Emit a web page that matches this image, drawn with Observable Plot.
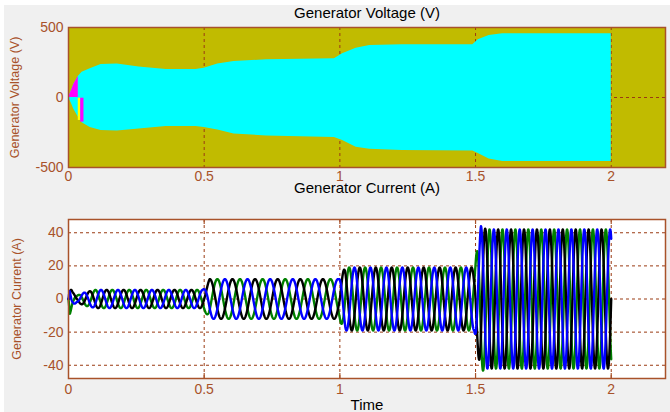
<!DOCTYPE html>
<html>
<head>
<meta charset="utf-8">
<script src="https://cdn.jsdelivr.net/npm/d3@7"></script>
<script src="https://cdn.jsdelivr.net/npm/@observablehq/plot@0.6"></script>
<style>
  html, body { margin: 0; padding: 0; background: #ffffff; }
  #bg { position: absolute; left: 4px; top: 5px; width: 666px; height: 407px; background: #f0f0f0; }
  #charts { position: absolute; left: 0; top: 0; width: 670px; }
  #charts svg { display: block; }
</style>
</head>
<body>
<div id="bg"></div>
<div id="charts"></div>
<script>
// ---------- data ----------
// Generator voltage envelope (V)
const vTime  = [0, 0.01, 0.02, 0.036, 0.05, 0.08, 0.12, 0.18, 0.26, 0.36, 0.47, 0.5, 0.55, 0.61, 0.73, 0.98, 1.01, 1.06, 1.11, 1.23, 1.49, 1.51, 1.55, 1.6, 2.0];
const vUpper = [0, 45, 95, 150, 180, 205, 236, 240, 217, 200, 200, 209, 240, 257, 269, 276, 312, 352, 371, 376, 376, 412, 443, 455, 455];
const vLower = [0, -40, -85, -140, -180, -215, -236, -240, -225, -208, -207, -215, -232, -260, -275, -285, -307, -355, -370, -378, -383, -400, -440, -457, -457];
// start-up colour patches of the voltage trace
const patchTime = [0, 0.01, 0.02, 0.036];
const patchTop  = [0, 45, 95, 150];
const stripeX1 = [0.036, 0.045];
const stripeX2 = [0.045, 0.057];
const stripeY1 = [-164, -176];
const stripeY2 = [-5, -5];
const stripeColor = ["yellow", "magenta"];

// Generator current: amplitude envelope (A) and frequency per load step (Hz)
const iEnvTime = [0, 0.005, 0.015, 0.03, 0.06, 0.1, 0.495, 0.52, 0.995, 1.02, 1.495, 1.52, 1.54, 2.0];
const iEnvAmp  = [0, 9, 4, 2, 4, 5.5, 5.5, 12, 12, 19, 19, 44, 42, 42];
const stepStart = [0, 0.5, 1.0, 1.5];
const stepFreq  = [16, 12, 17, 21];
const phaseNames  = ["green", "black", "blue"];
const phaseColors = ["#008000", "#000000", "#0000ff"];
const phaseShift  = [-120, 0, 120]; // degrees

// axes
const xTicks = [0, 0.5, 1, 1.5, 2];
const xGrid = [0.5, 1, 1.5, 2];
const vTicks = [-500, 0, 500];
const iTicks = [-40, -20, 0, 20, 40];

// ---------- build tables ----------
const voltage = vTime.map((t, i) => ({t, hi: vUpper[i], lo: vLower[i]}));
const patch = patchTime.map((t, i) => ({t, hi: patchTop[i], lo: 0}));
const stripes = stripeX1.map((x1, i) => ({x1, x2: stripeX2[i], y1: stripeY1[i], y2: stripeY2[i], c: stripeColor[i]}));

const interp = (xs, ys, x) => {
  for (let i = 1; i < xs.length; i++) if (x <= xs[i]) {
    const f = (x - xs[i - 1]) / (xs[i] - xs[i - 1]);
    return ys[i - 1] + f * (ys[i] - ys[i - 1]);
  }
  return ys[ys.length - 1];
};
const current = [];
{
  const dt = 0.0004;
  let ph = 0;
  for (let k = 0; k <= 5000; k++) {
    const t = k * dt;
    let s = 0; for (let j = 0; j < stepStart.length; j++) if (t >= stepStart[j]) s = j;
    const a = interp(iEnvTime, iEnvAmp, t);
    phaseNames.forEach((p, j) => current.push({t, phase: p, i: a * Math.sin(ph + phaseShift[j] * Math.PI / 180)}));
    ph += 2 * Math.PI * stepFreq[s] * dt;
  }
}

// ---------- style ----------
const font = "'Liberation Sans', Arial, sans-serif";
const brown = "#a8522a";
const gridCol = "#9a3a12";
const olive = "#c1bb00";
const fmt = d => String(d);

const voltagePlot = Plot.plot({
  width: 670, height: 202,
  marginTop: 27, marginBottom: 35, marginLeft: 68, marginRight: 5,
  style: {background: "transparent", fontFamily: font},
  x: {domain: [0, 2.2]},
  y: {domain: [-500, 500]},
  marks: [
    Plot.frame({fill: olive}),
    Plot.gridX(xGrid, {stroke: gridCol, strokeOpacity: 1, strokeDasharray: "3,3"}),
    Plot.gridY([0, 500], {stroke: gridCol, strokeOpacity: 1, strokeDasharray: "3,3"}),
    Plot.areaY(voltage, {x: "t", y1: "lo", y2: "hi", fill: "#00ffff"}),
    Plot.areaY(patch, {x: "t", y1: "lo", y2: "hi", fill: "#ff00ff"}),
    Plot.rect(stripes, {x1: "x1", x2: "x2", y1: "y1", y2: "y2", fill: "c"}),
    Plot.frame({stroke: brown, strokeWidth: 1.5}),
    Plot.axisX(xTicks, {tickSize: 0, tickPadding: 4, color: brown, fontSize: 14, tickFormat: fmt, label: null}),
    Plot.axisY(vTicks, {tickSize: 0, tickPadding: 5, color: brown, fontSize: 14, tickFormat: fmt, label: null}),
    Plot.text(["Generator Voltage (V)"], {frameAnchor: "top", lineAnchor: "middle", dy: -14, fontSize: 15, fill: "black"}),
    Plot.text(["Generator Current (A)"], {frameAnchor: "bottom", lineAnchor: "middle", dy: 21, fontSize: 15, fill: "black"}),
    Plot.text(["Generator Voltage (V)"], {frameAnchor: "left", textAnchor: "middle", lineAnchor: "middle", rotate: -90, dx: -54, fontSize: 12.5, fill: brown})
  ]
});

const currentPlot = Plot.plot({
  width: 670, height: 210,
  marginTop: 17, marginBottom: 34, marginLeft: 68, marginRight: 5,
  style: {background: "transparent", fontFamily: font},
  x: {domain: [0, 2.2]},
  y: {domain: [-48, 48]},
  color: {domain: phaseNames, range: phaseColors},
  marks: [
    Plot.frame({fill: "white"}),
    Plot.gridX(xGrid, {stroke: gridCol, strokeOpacity: 1, strokeDasharray: "3,3"}),
    Plot.gridY(iTicks, {stroke: gridCol, strokeOpacity: 1, strokeDasharray: "3,3"}),
    Plot.lineY(current, {x: "t", y: "i", z: "phase", stroke: "phase", strokeWidth: 2.4}),
    Plot.ruleX(xGrid, {insetTop: 154, stroke: brown, strokeWidth: 1.2}),
    Plot.ruleX(xGrid, {insetBottom: 154, stroke: brown, strokeWidth: 1.2}),
    Plot.frame({stroke: brown, strokeWidth: 1.5}),
    Plot.axisX(xTicks, {tickSize: 0, tickPadding: 6, color: brown, fontSize: 14, tickFormat: fmt, label: null}),
    Plot.axisY(iTicks, {tickSize: 0, tickPadding: 5, color: brown, fontSize: 14, tickFormat: fmt, label: null}),
    Plot.text(["Time"], {frameAnchor: "bottom", lineAnchor: "middle", dy: 27, fontSize: 15, fill: "black"}),
    Plot.text(["Generator Current (A)"], {frameAnchor: "left", textAnchor: "middle", lineAnchor: "middle", rotate: -90, dx: -52, fontSize: 12.5, fill: brown})
  ]
});

document.getElementById("charts").append(voltagePlot, currentPlot);
</script>
</body>
</html>
